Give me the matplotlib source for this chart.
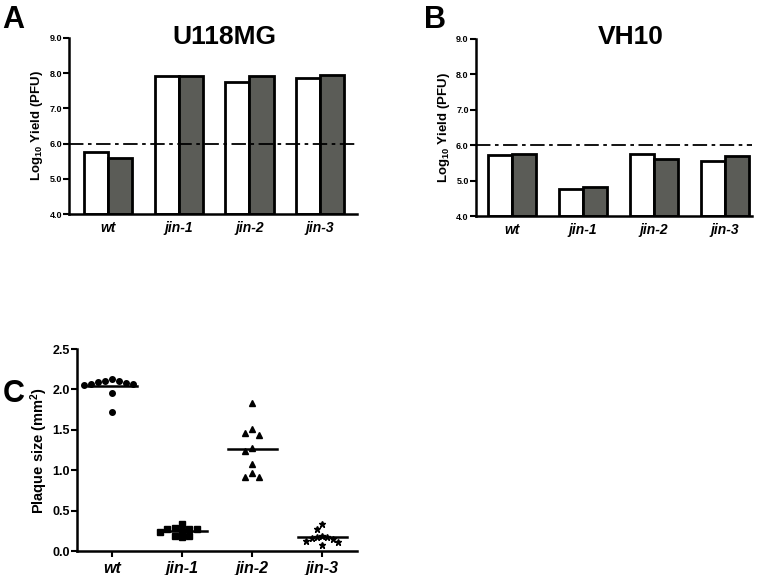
import matplotlib
matplotlib.use("Agg")
import matplotlib.pyplot as plt
import numpy as np

plt.rcParams['font.family'] = ['Liberation Sans', 'DejaVu Sans']
plt.rcParams['mathtext.fontset'] = 'custom'
plt.rcParams['mathtext.rm'] = 'Liberation Sans:bold'
plt.rcParams['mathtext.bf'] = 'Liberation Sans:bold'
plt.rcParams['mathtext.it'] = 'Liberation Sans:bold:italic'

categories = ["wt", "jin-1", "jin-2", "jin-3"]

# Panel A: U118MG yields (log10 PFU)
u118_white = [5.76, 7.92, 7.74, 7.87]
u118_gray = [5.60, 7.92, 7.91, 7.95]
# Panel B: VH10 yields
vh10_white = [5.72, 4.77, 5.74, 5.55]
vh10_gray = [5.75, 4.81, 5.61, 5.69]
threshold = 6.0

# Panel C: plaque sizes (mm^2)
plaque_wt = [2.09, 2.07, 2.10, 2.06, 2.13, 2.07, 2.08, 2.10, 1.95, 1.72]
plaque_jin1 = [0.28, 0.25, 0.27, 0.19, 0.27, 0.17, 0.27, 0.18, 0.23, 0.34]
plaque_jin2 = [1.83, 1.46, 1.44, 1.51, 1.24, 1.28, 1.08, 0.97, 0.91, 0.91]
plaque_jin3 = [0.33, 0.27, 0.17, 0.12, 0.16, 0.07, 0.18, 0.11, 0.15, 0.17]

GRAY = "#5b5c57"

fig = plt.figure(figsize=(7.64, 5.75), dpi=100)


def style_axes(ax, tick_fs):
    for s in ("top", "right"):
        ax.spines[s].set_visible(False)
    for s in ("left", "bottom"):
        ax.spines[s].set_linewidth(1.8)
    ax.tick_params(axis="y", direction="out", length=4, width=1.5,
                   labelsize=tick_fs, pad=1)
    for lab in ax.get_yticklabels():
        lab.set_fontweight("bold")


def bar_panel(rect, white, gray, title, title_x, label, label_x, xlim):
    ax = fig.add_axes(rect)
    x = np.arange(len(categories))
    w = 0.34
    ax.bar(x - w / 2, np.array(white) - 4.0, w, bottom=4.0, color="white",
           edgecolor="black", linewidth=2.0, zorder=2)
    ax.bar(x + w / 2, np.array(gray) - 4.0, w, bottom=4.0, color=GRAY,
           edgecolor="black", linewidth=2.0, zorder=2)
    ax.axhline(threshold, color="black", linestyle=(0, (8, 2.5, 2, 2.5)),
               linewidth=1.3, zorder=3)
    ax.set_ylim(4.0, 9.0)
    ax.set_xlim(*xlim)
    ax.set_yticks(np.arange(4.0, 9.01, 1.0))
    ax.set_yticklabels([f"{v:.1f}" for v in np.arange(4.0, 9.01, 1.0)])
    ax.set_xticks(x)
    ax.set_xticklabels(categories, fontsize=10, fontweight="bold",
                       fontstyle="italic")
    ax.tick_params(axis="x", length=0, pad=5)
    style_axes(ax, 6.5)
    ax.set_ylabel(r"Log$_{10}$ Yield (PFU)", fontsize=9.5, fontweight="bold",
                  labelpad=3)
    fig.text(title_x, 0.935, title, fontsize=19, fontweight="bold",
             ha="center", va="center")
    fig.text(label_x, 0.965, label, fontsize=22, fontweight="bold",
             ha="left", va="center")
    return ax


bar_panel([0.0903, 0.6273, 0.377, 0.3071], u118_white, u118_gray, "U118MG",
          0.294, "A", 0.003, (-0.55, 3.52))
bar_panel([0.6226, 0.6243, 0.3613, 0.3084], vh10_white, vh10_gray, "VH10",
          0.825, "B", 0.555, (-0.51, 3.38))

# Panel C
axc = fig.add_axes([0.1008, 0.0417, 0.3665, 0.3513])
groups = [plaque_wt, plaque_jin1, plaque_jin2, plaque_jin3]
markers = ["o", "s", "^", "*"]
msizes = [4, 4, 4.2, 5]
steps = [0.1, 0.105, 0.1, 0.075]


def swarm_offsets(vals, step, ydist=0.075):
    vals = np.asarray(vals)
    order = np.argsort(-vals)
    offs = np.zeros(len(vals))
    placed = []
    for i in order:
        cands = [0.0]
        for k in range(1, 8):
            cands += [-k * step, k * step]
        for c in cands:
            ok = True
            for j in placed:
                if abs(offs[j] - c) < step * 0.9 and abs(vals[j] - vals[i]) < ydist:
                    ok = False
                    break
            if ok:
                offs[i] = c
                break
        placed.append(i)
    return offs


for gi, (vals, m, ms, st) in enumerate(zip(groups, markers, msizes, steps)):
    offs = swarm_offsets(vals, st)
    axc.plot(gi + offs, vals, linestyle="none", marker=m, markersize=ms,
             color="black", zorder=3)
    axc.plot([gi - 0.35, gi + 0.35], [np.mean(vals)] * 2, color="black",
             linewidth=1.8, zorder=2)

axc.set_xlim(-0.5, 3.5)
axc.set_ylim(0, 2.5)
axc.set_yticks(np.arange(0, 2.51, 0.5))
axc.set_yticklabels([f"{v:.1f}" for v in np.arange(0, 2.51, 0.5)])
axc.set_xticks(range(len(categories)))
axc.set_xticklabels(categories, fontsize=11.5, fontweight="bold",
                    fontstyle="italic")
axc.tick_params(axis="x", direction="out", length=4, width=1.5, pad=3)
style_axes(axc, 9)
axc.set_ylabel(r"Plaque size (mm$^{2}$)", fontsize=10.5, fontweight="bold",
               labelpad=2)
fig.text(0.003, 0.315, "C", fontsize=22, fontweight="bold", ha="left",
         va="center")

fig.savefig("out.png", dpi=100)
